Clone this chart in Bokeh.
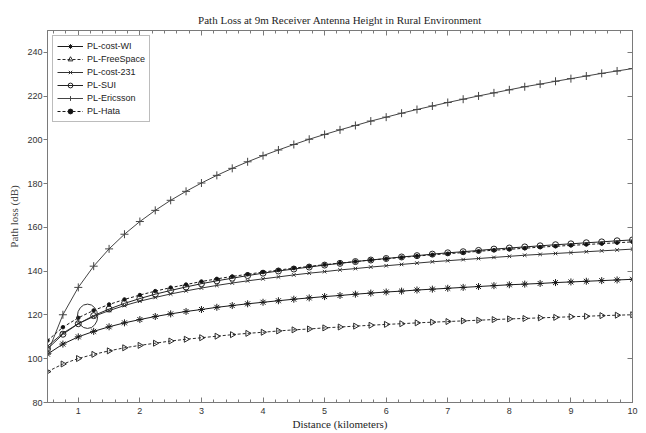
import math
from bokeh.plotting import figure
from bokeh.models import SingleIntervalTicker, Range1d, Legend, LinearAxis, CustomJSTickFormatter
from bokeh.embed import file_html
from bokeh.resources import INLINE

# ---------------- data ----------------
distance_km = [0.5, 0.75, 1.0, 1.25, 1.5, 1.75, 2.0, 2.25, 2.5, 2.75, 3.0, 3.25, 3.5,
               3.75, 4.0, 4.25, 4.5, 4.75, 5.0, 5.25, 5.5, 5.75, 6.0, 6.25, 6.5, 6.75,
               7.0, 7.25, 7.5, 7.75, 8.0, 8.25, 8.5, 8.75, 9.0, 9.25, 9.5, 9.75, 10.0]

pl_cost_wi = [102.1, 106.7, 110.0, 112.5, 114.6, 116.4, 117.9, 119.3, 120.5, 121.6, 122.5,
              123.5, 124.3, 125.1, 125.8, 126.5, 127.2, 127.8, 128.4, 128.9, 129.5, 130.0,
              130.5, 130.9, 131.4, 131.8, 132.2, 132.6, 133.0, 133.4, 133.8, 134.1, 134.4,
              134.8, 135.1, 135.4, 135.7, 136.0, 136.3]

pl_free_space = [94.1, 97.6, 100.1, 102.0, 103.6, 105.0, 106.1, 107.1, 108.1, 108.9, 109.6,
                 110.3, 111.0, 111.6, 112.1, 112.7, 113.2, 113.6, 114.1, 114.5, 114.9, 115.3,
                 115.7, 116.0, 116.4, 116.7, 117.0, 117.3, 117.6, 117.9, 118.2, 118.4, 118.7,
                 118.9, 119.2, 119.4, 119.7, 119.9, 120.1]

pl_cost_231 = [105.7, 111.7, 116.0, 119.3, 122.0, 124.3, 126.3, 128.0, 129.6, 131.0, 132.3,
               133.5, 134.6, 135.6, 136.5, 137.4, 138.3, 139.1, 139.8, 140.6, 141.2, 141.9,
               142.5, 143.1, 143.7, 144.3, 144.8, 145.3, 145.8, 146.3, 146.8, 147.3, 147.7,
               148.1, 148.5, 148.9, 149.3, 149.7, 150.1]

pl_sui = [104.5, 111.2, 116.0, 119.7, 122.7, 125.3, 127.5, 129.5, 131.2, 132.8, 134.3,
          135.6, 136.8, 138.0, 139.1, 140.1, 141.0, 141.9, 142.8, 143.6, 144.4, 145.1,
          145.8, 146.5, 147.1, 147.8, 148.4, 148.9, 149.5, 150.1, 150.6, 151.1, 151.6,
          152.1, 152.5, 153.0, 153.4, 153.9, 154.3]

pl_ericsson = [102.5, 120.1, 132.6, 142.3, 150.2, 156.9, 162.7, 167.8, 172.4, 176.5, 180.3,
               183.8, 187.0, 190.0, 192.8, 195.4, 197.9, 200.3, 202.5, 204.6, 206.6, 208.6,
               210.4, 212.2, 213.9, 215.5, 217.1, 218.6, 220.1, 221.5, 222.9, 224.3, 225.5,
               226.8, 228.0, 229.2, 230.4, 231.5, 232.6]

pl_hata = [108.3, 114.4, 118.7, 122.1, 124.8, 127.1, 129.1, 130.9, 132.5, 133.9, 135.3,
           136.5, 137.6, 138.6, 139.6, 140.5, 141.4, 142.2, 143.0, 143.7, 144.4, 145.1,
           145.7, 146.3, 146.9, 147.5, 148.0, 148.5, 149.1, 149.6, 150.0, 150.5, 151.0,
           151.4, 151.8, 152.2, 152.6, 153.0, 153.4]

series_names = ["PL-cost-WI", "PL-FreeSpace", "PL-cost-231", "PL-SUI", "PL-Ericsson", "PL-Hata"]

# axis extents
x_start, x_end = 0.5, 10
y_start, y_end = 80, 250

# hand-drawn highlight ellipse in the reference (data units)
ellipse_x, ellipse_y = 1.15, 119.4
ellipse_w, ellipse_h = 0.33, 11.1

title_text = "Path Loss at 9m Receiver Antenna Height in Rural Environment"
x_label = "Distance (kilometers)"
y_label = "Path loss (dB)"

# ---------------- figure ----------------
SERIF = "Liberation Serif"
SANS = "Liberation Sans"
INK = "#1e1e1e"
AXC = "#7a7a7a"

p = figure(width=646, height=433, x_range=Range1d(x_start, x_end), y_range=Range1d(y_start, y_end),
           output_backend="svg", toolbar_location=None,
           min_border_left=47, min_border_right=14, min_border_top=30, min_border_bottom=31)
p.background_fill_color = "white"
p.border_fill_color = "white"
p.outline_line_color = AXC
p.grid.visible = False

p.title.text = title_text
p.title.text_font = SERIF
p.title.text_font_size = "11px"
p.title.text_font_style = "normal"
p.title.text_color = INK
p.title.align = "center"

xa = p.xaxis[0]
xa.ticker = SingleIntervalTicker(interval=1, num_minor_ticks=5)
xa.axis_label = x_label
xa.axis_label_text_font = SERIF
xa.axis_label_text_font_size = "11px"
xa.axis_label_text_font_style = "normal"
xa.axis_label_text_color = INK
xa.axis_label_standoff = 1
xa.major_label_text_font = SANS
xa.major_label_text_font_size = "9px"
xa.major_label_text_color = "#333"
xa.major_label_standoff = 5
xa.major_tick_in = 5
xa.major_tick_out = 0
xa.minor_tick_in = 3
xa.minor_tick_out = 0
xa.axis_line_color = AXC
xa.major_tick_line_color = AXC
xa.minor_tick_line_color = AXC

ya = p.yaxis[0]
ya.ticker = SingleIntervalTicker(interval=20, num_minor_ticks=0)
ya.axis_label = y_label
ya.axis_label_text_font = SERIF
ya.axis_label_text_font_size = "11px"
ya.axis_label_text_font_style = "normal"
ya.axis_label_text_color = "#444"
ya.axis_label_standoff = 4
ya.major_label_text_font = SANS
ya.major_label_text_font_size = "9px"
ya.major_label_text_color = "#333"
ya.major_label_standoff = 1
ya.major_tick_in = 0
ya.major_tick_out = 4
ya.axis_line_color = AXC
ya.major_tick_line_color = AXC

# unlabeled mirror axes: inward ticks on the top and right frame edges
blank = CustomJSTickFormatter(code="return ''")
top = LinearAxis(ticker=SingleIntervalTicker(interval=1, num_minor_ticks=5), formatter=blank,
                 major_label_standoff=0, major_label_text_font_size="1px",
                 major_tick_in=5, major_tick_out=0, minor_tick_in=3, minor_tick_out=0,
                 axis_line_color=AXC, major_tick_line_color=AXC, minor_tick_line_color=AXC)
p.add_layout(top, "above")
right = LinearAxis(ticker=SingleIntervalTicker(interval=20, num_minor_ticks=0), formatter=blank,
                   major_label_standoff=0, major_label_text_font_size="1px",
                   major_tick_in=5, major_tick_out=0,
                   axis_line_color=AXC, major_tick_line_color=AXC)
p.add_layout(right, "right")

# ---------------- series ----------------
styles = [
    # name, values, dash, marker, size, fill, angle, line colour
    ("PL-cost-WI", pl_cost_wi, "solid", "asterisk", 7, None, 0.0, "#1a1a1a"),
    ("PL-FreeSpace", pl_free_space, "3 2", "triangle", 6, None, -math.pi / 2, "#2a2a2a"),
    ("PL-cost-231", pl_cost_231, "solid", "x", 5, None, 0.0, "#333333"),
    ("PL-SUI", pl_sui, "solid", "circle", 6, None, 0.0, "#222222"),
    ("PL-Ericsson", pl_ericsson, "solid", "cross", 8, None, 0.0, "#444444"),
    ("PL-Hata", pl_hata, "3 2", "circle", 3.5, "#111111", 0.0, "#1a1a1a"),
]

items = []
for name, vals, dash, marker, size, fill, ang, col in styles:
    r1 = p.line(distance_km, vals, line_color=col, line_width=1, line_dash=dash)
    r2 = p.scatter(distance_km, vals, marker=marker, size=size, angle=ang,
                   line_color=col, line_width=1,
                   fill_color=fill if fill else None)
    items.append((name, [r1, r2]))

p.ellipse(x=[ellipse_x], y=[ellipse_y], width=[ellipse_w], height=[ellipse_h],
          fill_color=None, line_color="#333333", line_width=1)

legend = Legend(items=items, location="top_left")
legend.margin = 5
legend.padding = 4
legend.spacing = 1
legend.label_text_font = SANS
legend.label_text_font_size = "9px"
legend.label_text_color = "#222"
legend.label_height = 12
legend.glyph_height = 12
legend.glyph_width = 26
legend.label_standoff = 4
legend.border_line_color = AXC
legend.border_line_width = 1
legend.background_fill_color = "white"
legend.background_fill_alpha = 1.0
p.add_layout(legend, "center")

open("out.html", "w").write(file_html(p, INLINE))
